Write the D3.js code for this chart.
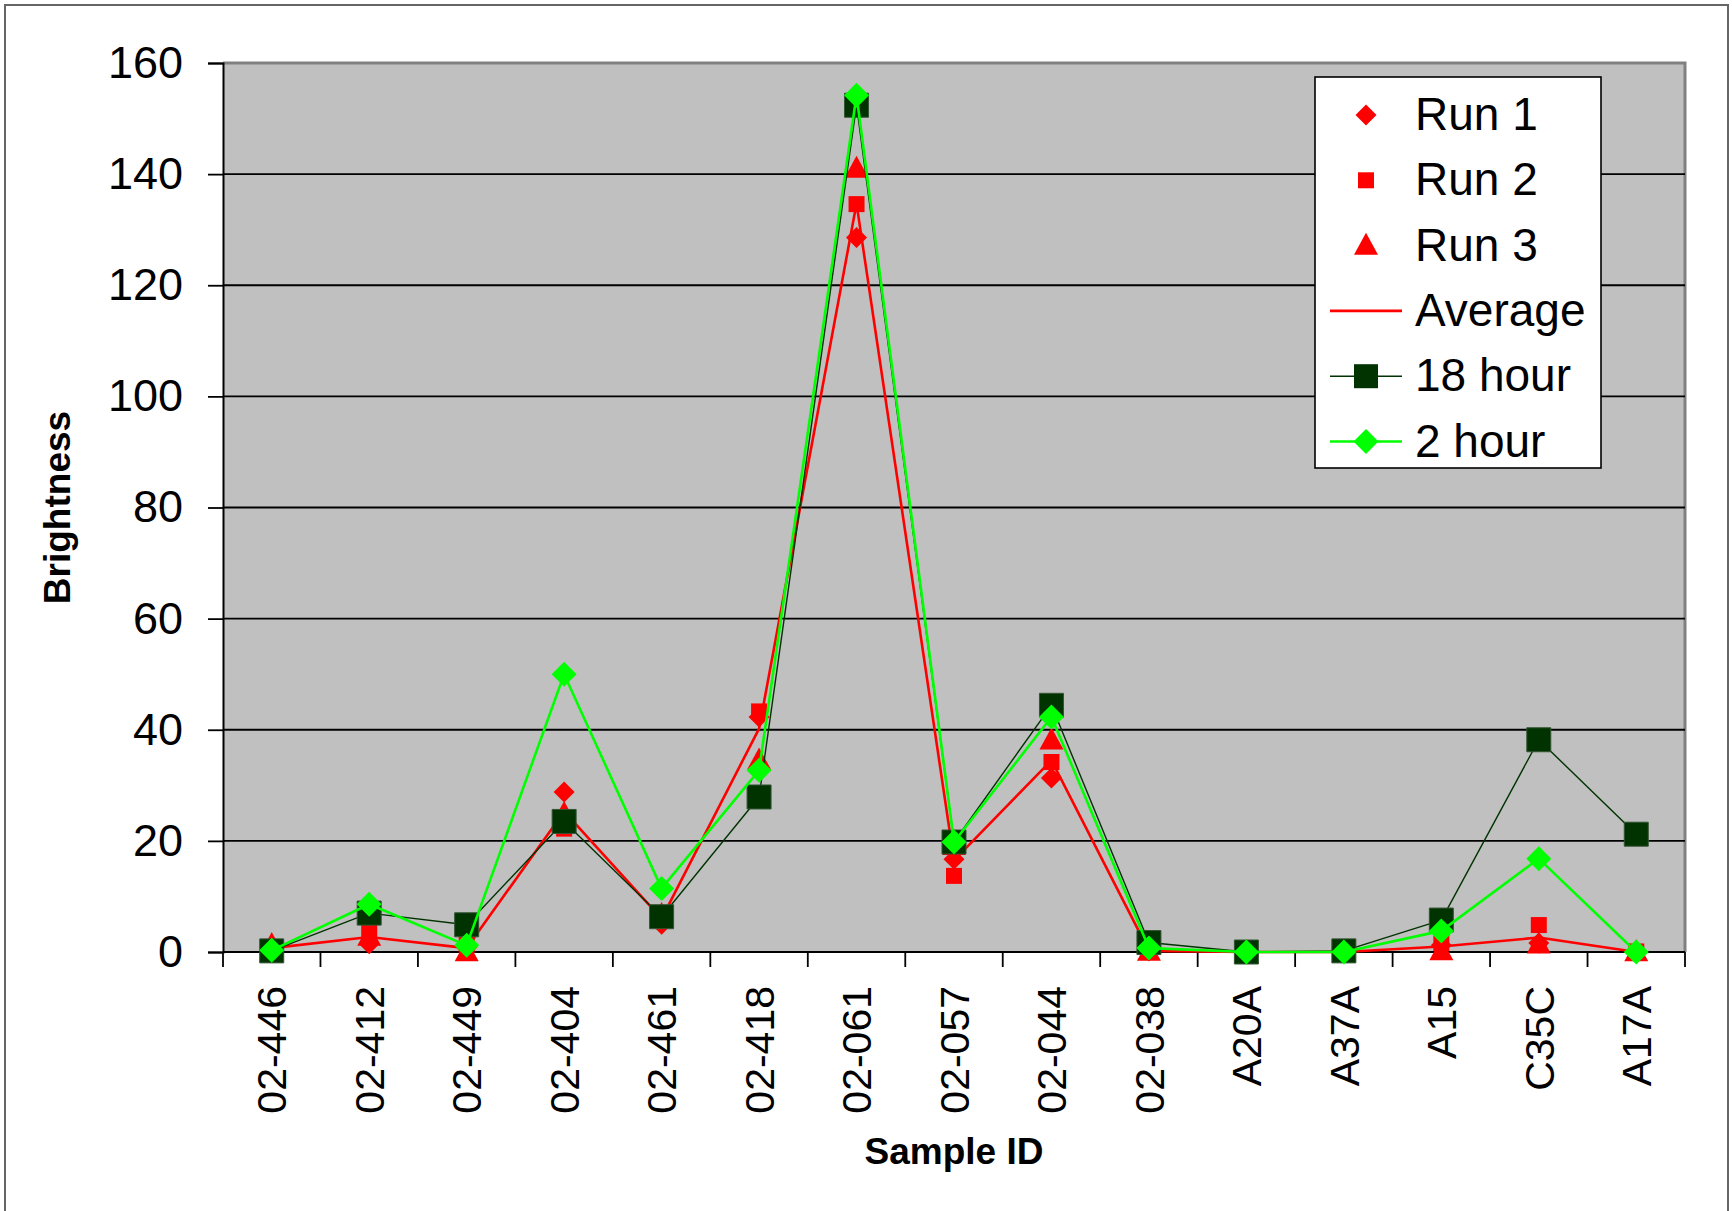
<!DOCTYPE html>
<html>
<head>
<meta charset="utf-8">
<script src="https://cdn.jsdelivr.net/npm/d3@7"></script>
<style>
  html, body { margin: 0; padding: 0; background: #fff; }
  svg { display: block; font-family: "Liberation Sans", Arial, sans-serif; }
</style>
</head>
<body>
<svg id="chart" width="1732" height="1211"></svg>
<script>
// Sample IDs along the x axis
const categories = ["02-446", "02-412", "02-449", "02-404", "02-461", "02-418", "02-061",
  "02-057", "02-044", "02-038", "A20A", "A37A", "A15", "C35C", "A17A"];

// Brightness readings per sample
const run1    = [0.5, 1.5, 0.8, 28.8, 5.0, 42.3, 128.6, 16.7, 31.3, 0.2, 0, 0, 1.2, 1.6, 0];
const run2    = [0.3, 3.8, 1.3, 22.2, 6.3, 43.3, 134.6, 13.7, 34.2, 0.3, 0, 0, 1.6, 4.85, 0.1];
const run3    = [1.3, 2.8, 0, 24.9, 6.7, 34.5, 141.0, 19.1, 38.1, 0.1, 0, 0, 0.2, 1.4, 0];
const average = [0.7, 2.7, 0.7, 25.3, 6.0, 40.2, 134.7, 16.5, 34.5, 0.2, 0, 0, 1.0, 2.6, 0];
const hour18  = [0.2, 7.0, 4.9, 23.5, 6.35, 27.9, 152.4, 19.8, 44.4, 1.7, 0, 0.2, 5.75, 38.2, 21.2];
const hour2   = [0.3, 8.6, 1.2, 50.0, 11.45, 32.7, 154.2, 19.8, 42.3, 0.7, 0, 0, 3.8, 16.8, 0];

const yTicks = [0, 20, 40, 60, 80, 100, 120, 140, 160];
const yDomain = [0, 160];

const svg = d3.select("#chart");
const W = 1732, H = 1211;
const plot = { left: 223, right: 1685, top: 63, bottom: 952 };

const x = d3.scaleBand().domain(categories).range([plot.left, plot.right]).padding(0);
const y = d3.scaleLinear().domain(yDomain).range([plot.bottom, plot.top]);
const cx = c => x(c) + x.bandwidth() / 2;

// outer chart frame
svg.append("rect")
  .attr("x", 5).attr("y", 5).attr("width", 1723).attr("height", H + 10)
  .attr("fill", "#fff").attr("stroke", "#666").attr("stroke-width", 2);

// plot area
svg.append("rect")
  .attr("x", plot.left).attr("y", plot.top)
  .attr("width", plot.right - plot.left).attr("height", plot.bottom - plot.top)
  .attr("fill", "#c0c0c0");
svg.append("path")
  .attr("d", `M${plot.left},${plot.top}H${plot.right}V${plot.bottom}`)
  .attr("fill", "none").attr("stroke", "#808080").attr("stroke-width", 3);

// horizontal gridlines
svg.append("g").selectAll("line").data(yTicks.filter(t => t > 0 && t < 160)).join("line")
  .attr("x1", plot.left).attr("x2", plot.right)
  .attr("y1", d => y(d)).attr("y2", d => y(d))
  .attr("stroke", "#000").attr("stroke-width", 1.8);

// y axis
const yAxis = d3.axisLeft(y).tickValues(yTicks).tickSize(15).tickPadding(25);
const gy = svg.append("g").attr("transform", `translate(${plot.left},0)`).call(yAxis);
gy.select(".domain").attr("stroke", "#000").attr("stroke-width", 2);
gy.selectAll(".tick line").attr("stroke", "#000").attr("stroke-width", 1.8);
gy.selectAll(".tick text")
  .attr("font-size", 45).attr("fill", "#000")
  .attr("font-family", "'Liberation Sans', Arial, sans-serif");

// x axis: baseline, ticks on category boundaries, rotated labels
const gx = svg.append("g");
gx.append("line")
  .attr("x1", plot.left).attr("x2", plot.right)
  .attr("y1", plot.bottom).attr("y2", plot.bottom)
  .attr("stroke", "#000").attr("stroke-width", 2.2);
const bounds = categories.map(c => x(c)).concat([plot.right]);
gx.selectAll("line.tk").data(bounds).join("line").attr("class", "tk")
  .attr("x1", d => d).attr("x2", d => d)
  .attr("y1", plot.bottom).attr("y2", plot.bottom + 15)
  .attr("stroke", "#000").attr("stroke-width", 1.8);
gx.selectAll("text").data(categories).join("text")
  .attr("transform", d => `translate(${cx(d)},986) rotate(-90)`)
  .attr("text-anchor", "end").attr("dy", "0.36em")
  .attr("font-size", 41).attr("fill", "#000")
  .text(d => d);

// axis titles
svg.append("text")
  .attr("transform", `translate(57,${(plot.top + plot.bottom) / 2}) rotate(-90)`)
  .attr("text-anchor", "middle").attr("dy", "0.36em")
  .attr("font-size", 37).attr("font-weight", "bold").text("Brightness");
svg.append("text")
  .attr("x", (plot.left + plot.right) / 2).attr("y", 1164)
  .attr("text-anchor", "middle")
  .attr("font-size", 37).attr("font-weight", "bold").text("Sample ID");

// marker shapes
const diamond = r => `M0,${-r}L${r},0L0,${r}L${-r},0Z`;
const square = s => `M${-s / 2},${-s / 2}h${s}v${s}h${-s}Z`;
const triangle = (w, h) => `M0,${-h * 0.58}L${w / 2},${h * 0.42}L${-w / 2},${h * 0.42}Z`;

const marks = svg.append("g");
function drawMarkers(values, shape, fill, stroke) {
  marks.append("g").selectAll("path").data(values).join("path")
    .attr("transform", (d, i) => `translate(${cx(categories[i])},${y(d)})`)
    .attr("d", shape)
    .attr("fill", fill)
    .attr("stroke", stroke || "none").attr("stroke-width", stroke ? 1 : 0);
}
function drawLine(values, color, width) {
  const line = d3.line().x((d, i) => cx(categories[i])).y(d => y(d));
  marks.append("path").datum(values)
    .attr("d", line).attr("fill", "none")
    .attr("stroke", color).attr("stroke-width", width)
    .attr("stroke-linejoin", "round");
}

drawMarkers(run1, diamond(10.5), "#ff0000");
drawMarkers(run2, square(16), "#ff0000");
drawMarkers(run3, triangle(24, 22), "#ff0000");
drawLine(average, "#ff0000", 2.6);
drawLine(hour18, "#003300", 1.4);
drawMarkers(hour18, square(24), "#003300", "#335533");
drawLine(hour2, "#00ff00", 2.6);
drawMarkers(hour2, diamond(12.5), "#00ff00");

// legend
const legend = svg.append("g");
legend.append("rect")
  .attr("x", 1315).attr("y", 77).attr("width", 286).attr("height", 391)
  .attr("fill", "#fff").attr("stroke", "#000").attr("stroke-width", 1.6);
const legendItems = [
  { name: "Run 1", marker: diamond(10.5), fill: "#ff0000" },
  { name: "Run 2", marker: square(16), fill: "#ff0000" },
  { name: "Run 3", marker: triangle(24, 22), fill: "#ff0000" },
  { name: "Average", line: "#ff0000", lw: 2.6 },
  { name: "18 hour", marker: square(24), fill: "#003300", line: "#003300", lw: 1.4 },
  { name: "2 hour", marker: diamond(12.5), fill: "#00ff00", line: "#00ff00", lw: 2.6 }
];
legendItems.forEach((it, i) => {
  const yy = 115 + i * 65.3;
  const g = legend.append("g").attr("transform", `translate(0,${yy})`);
  if (it.line) {
    g.append("line").attr("x1", 1330).attr("x2", 1402).attr("y1", 0).attr("y2", 0)
      .attr("stroke", it.line).attr("stroke-width", it.lw);
  }
  if (it.marker) {
    g.append("path").attr("transform", "translate(1366,0)")
      .attr("d", it.marker).attr("fill", it.fill);
  }
  g.append("text").attr("x", 1415).attr("y", 15)
    .attr("font-size", 46).attr("fill", "#000").text(it.name);
});
</script>
</body>
</html>
